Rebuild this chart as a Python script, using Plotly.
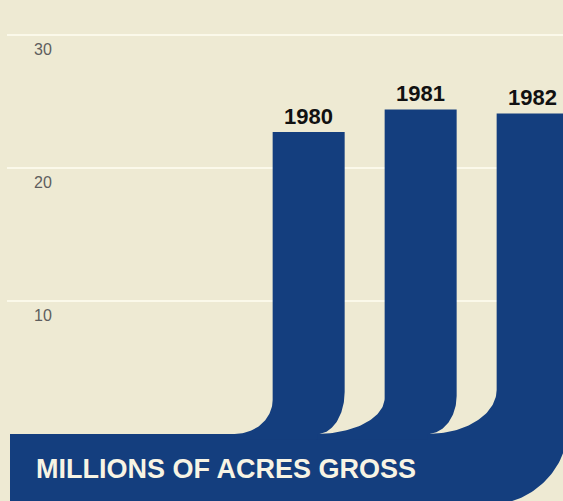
import numpy as np
import plotly.graph_objects as go

# ---- data -------------------------------------------------------------
years = [1980, 1981, 1982]
acres = [22.7, 24.4, 24.1]          # millions of acres, gross
grid_values = [10, 20, 30]
grid_labels = ["10", "20", "30"]
caption = "MILLIONS OF ACRES GROSS"

# ---- canvas / scales --------------------------------------------------
W, H = 563, 501
BG = "#EEEAD3"
BLUE = "#143E7E"
GRID = "#FBF9EA"
INK = "#5E5E5E"

x_range = [1977.244, 1982.271]
y_range = [-5.04, 32.63]
px_x = W / (x_range[1] - x_range[0])   # pixels per year
px_y = H / (y_range[1] - y_range[0])   # pixels per million acres

bar_w = 72 / px_x
# corner radii (px): the left edge bends into the band with a fillet,
# the right edge rounds off into it
inner_r = [(38, 34), (68, 36), (69, 44)]
outer_r = [(27, 42), (29, 38), (81, 81)]
band_left = x_range[0] + 10 / px_x
band_bottom = -71 / px_y


def arc(cx, cy, rx, ry, t0, t1, n=48):
    t = np.linspace(t0, t1, n)
    return list(cx + rx * np.cos(t)), list(cy + ry * np.sin(t))


fig = go.Figure()

n = len(years)
for i in reversed(range(n)):
    yr, v = years[i], acres[i]
    L, R = yr - bar_w / 2, yr + bar_w / 2
    rxi, ryi = inner_r[i][0] / px_x, inner_r[i][1] / px_y
    rxo, ryo = outer_r[i][0] / px_x, outer_r[i][1] / px_y
    last = i == n - 1
    base = band_bottom if last else 0.0

    xs, ys = [L, R], [v, v]
    ax, ay = arc(R - rxo, base + ryo, rxo, ryo, 0, -np.pi / 2)
    xs += ax
    ys += ay
    if last:
        # the final bar carries the horizontal band under all three
        xs += [band_left, band_left]
        ys += [base, 0.0]
    else:
        xs += [R - rxo, L - rxi]
        ys += [-0.4, -0.4]
    ax, ay = arc(L - rxi, ryi, rxi, ryi, -np.pi / 2, 0)
    xs += ax
    ys += ay
    xs.append(L)
    ys.append(v)

    fig.add_trace(go.Scatter(
        x=xs, y=ys, mode="lines", fill="toself",
        fillcolor=BLUE, line=dict(width=0, color=BLUE),
        hoverinfo="skip", showlegend=False,
    ))

# year labels on top of each bar
for yr, v in zip(years, acres):
    fig.add_annotation(
        x=yr, y=v, xref="x", yref="y", text=str(yr), showarrow=False,
        xanchor="center", yanchor="bottom", yshift=1,
        font=dict(family="Liberation Sans", size=22, color="#111111", weight="bold"),
    )

# horizontal rules with their values just beneath
for gv, gl in zip(grid_values, grid_labels):
    fig.add_shape(
        type="line", xref="paper", yref="y", x0=7 / W, x1=1, y0=gv, y1=gv,
        line=dict(color=GRID, width=2), layer="below",
    )
    fig.add_annotation(
        x=32 / W, y=gv, xref="paper", yref="y", text=gl, showarrow=False,
        xanchor="left", yanchor="top", yshift=-4,
        font=dict(family="Liberation Sans", size=16, color=INK),
    )

fig.add_annotation(
    x=34 / W, y=1 - 469 / H, xref="paper", yref="paper", text=caption,
    showarrow=False, xanchor="left", yanchor="middle",
    font=dict(family="Liberation Sans", size=27, color="#F8F4E4", weight="bold"),
)

fig.update_layout(
    width=W, height=H, margin=dict(l=0, r=0, t=0, b=0),
    paper_bgcolor=BG, plot_bgcolor=BG,
    xaxis=dict(range=x_range, visible=False, fixedrange=True),
    yaxis=dict(range=y_range, visible=False, fixedrange=True),
    showlegend=False,
)

fig.write_html("out.html")
